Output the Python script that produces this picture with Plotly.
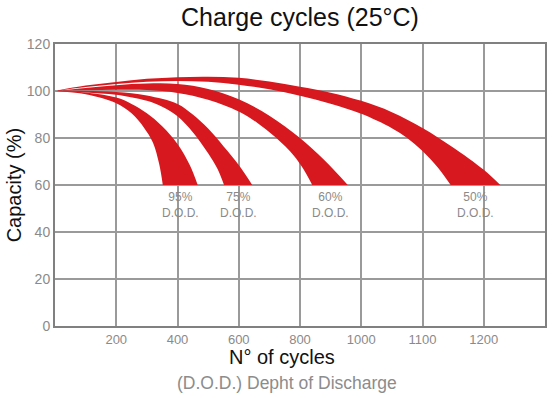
import plotly.graph_objects as go

# Axis ticks
x_tick_pos = [1, 2, 3, 4, 5, 6, 7]
x_tick_text = ["200", "400", "600", "800", "1000", "1100", "1200"]
y_tick_vals = [0, 20, 40, 60, 80, 100, 120]

# Bands (x in grid steps of the x axis, y = capacity %)
d95_out_x = [0, 0.5, 1.0, 1.25, 1.5, 1.75, 2.0, 2.2, 2.33]
d95_out_y = [100, 99.4, 97.2, 94.5, 90.5, 85.0, 77.5, 68.5, 60]
d95_in_x = [0, 0.5, 1.0, 1.25, 1.45, 1.6, 1.7, 1.76]
d95_in_y = [100, 98.6, 94.8, 90.5, 84.5, 78, 69, 60]

d75_out_x = [0, 0.5, 1.0, 1.5, 2.0, 2.25, 2.5, 2.75, 3.0, 3.22]
d75_out_y = [100, 100.0, 99.6, 98.1, 94.5, 90.0, 84.0, 76.5, 68.5, 60]
d75_in_x = [0, 0.5, 1.0, 1.5, 1.75, 2.0, 2.25, 2.5, 2.65, 2.76]
d75_in_y = [100, 99.4, 98.4, 95.8, 93.3, 89.3, 82.5, 73.5, 67, 60]

d60_out_x = [0, 0.5, 1.0, 1.5, 2.0, 2.5, 3.0, 3.5, 4.0, 4.4, 4.78]
d60_out_y = [100, 101.3, 102.5, 103.2, 103.0, 100.9, 96.5, 89.5, 80, 70.5, 60]
d60_in_x = [0, 0.5, 1.0, 1.5, 2.0, 2.5, 3.0, 3.3, 3.6, 3.9, 4.05, 4.2]
d60_in_y = [100, 100.3, 100.5, 100.4, 99.2, 96.3, 91.3, 86.5, 80.3, 72.5, 67, 60]

d50_out_x = [0, 0.5, 1.0, 1.5, 2.0, 2.5, 3.0, 3.5, 4.0, 4.5, 5.0, 5.5,
             6.0, 6.5, 7.0, 7.27]
d50_out_y = [100, 102.3, 103.8, 105.2, 105.9, 106.1, 105.6, 104.0, 101.8,
             99.3, 95.8, 91.0, 84.3, 76.0, 66.5, 60]
d50_in_x = [0, 0.5, 1.0, 1.5, 2.0, 2.5, 3.0, 3.5, 4.0, 4.5, 5.0, 5.5,
            5.75, 6.0, 6.25, 6.46]
d50_in_y = [100, 101.7, 103.0, 103.9, 104.3, 103.9, 102.7, 100.7, 98.0,
            94.6, 90.3, 84.2, 80, 74.5, 67.5, 60]

dod_labels = ["95%", "75%", "60%", "50%"]

RED = "#D7181E"
GRID = "#9a9a9a"
FONT = "Liberation Sans, Arial, sans-serif"

bands = [
    (d95_out_x, d95_out_y, d95_in_x, d95_in_y),
    (d75_out_x, d75_out_y, d75_in_x, d75_in_y),
    (d60_out_x, d60_out_y, d60_in_x, d60_in_y),
    (d50_out_x, d50_out_y, d50_in_x, d50_in_y),
]

fig = go.Figure()
annotations = []
for (ox, oy, ix, iy), lab in zip(bands, dod_labels):
    fig.add_trace(go.Scatter(x=ox, y=oy, mode="lines",
                             line=dict(width=0, shape="spline", color=RED),
                             showlegend=False, hoverinfo="skip"))
    fig.add_trace(go.Scatter(x=ix, y=iy, mode="lines", fill="tonexty",
                             fillcolor=RED,
                             line=dict(width=0, shape="spline", color=RED),
                             showlegend=False, hoverinfo="skip"))
    annotations.append(dict(
        x=(ox[-1] + ix[-1]) / 2, y=iy[-1], xref="x", yref="y",
        text=lab + "<br>D.O.D.", showarrow=False, yanchor="top",
        yshift=-3, align="center",
        font=dict(family=FONT, size=12, color="#8a8a8a")))

annotations += [
    dict(text="Capacity (%)", x=-0.083, y=0.5, xref="paper", yref="paper",
         showarrow=False, textangle=-90, xanchor="center", yanchor="middle",
         font=dict(family=FONT, size=20, color="#111")),
    dict(text="N° of cycles", x=0.4634, y=-0.11, xref="paper", yref="paper",
         showarrow=False, xanchor="center", yanchor="middle",
         font=dict(family=FONT, size=20, color="#111")),
    dict(text="(D.O.D.) Depht of Discharge", x=0.4736, y=-0.202,
         xref="paper", yref="paper", showarrow=False, xanchor="center",
         yanchor="middle", font=dict(family=FONT, size=17.5, color="#8c8c8c")),
]

fig.update_layout(
    width=555, height=398,
    margin=dict(l=55, r=8, t=44, b=72),
    paper_bgcolor="white", plot_bgcolor="white",
    title=dict(text="Charge cycles (25°C)", x=0.5, xref="paper",
               xanchor="center", y=1 - 17 / 398, yanchor="middle",
               font=dict(family=FONT, size=25, color="#111")),
    annotations=annotations,
    xaxis=dict(range=[0, 8], tickvals=x_tick_pos, ticktext=x_tick_text,
               showgrid=True, gridcolor=GRID, gridwidth=1.5,
               showline=True, linecolor="#808080", linewidth=2, mirror=True,
               zeroline=False, ticks="",
               tickfont=dict(family=FONT, size=13, color="#8a8a8a")),
    yaxis=dict(range=[0, 120], tickvals=y_tick_vals,
               showgrid=True, gridcolor=GRID, gridwidth=1.5,
               showline=True, linecolor="#808080", linewidth=2, mirror=True,
               zeroline=False, ticks="",
               tickfont=dict(family=FONT, size=14, color="#8a8a8a")),
)

fig.write_html("out.html", config={"displayModeBar": False},
               post_script="document.body.style.margin='0px';"
                           "document.body.style.overflow='hidden';")
